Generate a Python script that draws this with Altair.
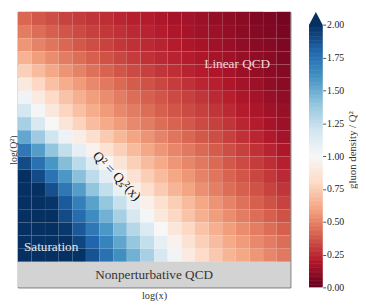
import altair as alt
import numpy as np
import pandas as pd

# gluon density / Q^2.
# columns: log(x) bins, left -> right ; rows: log(Q^2) bins, top (high Q^2) -> bottom
density_rows = [
    [0.42, 0.38, 0.35, 0.32, 0.30, 0.28, 0.26, 0.24, 0.22, 0.21, 0.19, 0.17, 0.16, 0.14, 0.12, 0.11, 0.09, 0.07, 0.06, 0.04],
    [0.48, 0.44, 0.40, 0.37, 0.34, 0.31, 0.29, 0.27, 0.25, 0.23, 0.21, 0.19, 0.17, 0.15, 0.14, 0.12, 0.10, 0.08, 0.07, 0.05],
    [0.56, 0.50, 0.46, 0.42, 0.38, 0.35, 0.32, 0.29, 0.27, 0.25, 0.23, 0.21, 0.19, 0.17, 0.15, 0.13, 0.11, 0.09, 0.08, 0.06],
    [0.65, 0.58, 0.53, 0.48, 0.44, 0.40, 0.36, 0.33, 0.30, 0.27, 0.25, 0.23, 0.21, 0.19, 0.17, 0.15, 0.13, 0.11, 0.09, 0.07],
    [0.76, 0.68, 0.61, 0.55, 0.50, 0.45, 0.41, 0.37, 0.34, 0.31, 0.28, 0.26, 0.23, 0.21, 0.19, 0.17, 0.14, 0.12, 0.10, 0.08],
    [0.90, 0.79, 0.70, 0.63, 0.57, 0.52, 0.47, 0.43, 0.39, 0.36, 0.33, 0.30, 0.27, 0.24, 0.22, 0.19, 0.16, 0.14, 0.11, 0.09],
    [1.04, 0.91, 0.80, 0.71, 0.64, 0.58, 0.53, 0.48, 0.44, 0.40, 0.37, 0.34, 0.31, 0.28, 0.25, 0.22, 0.19, 0.16, 0.13, 0.11],
    [1.18, 1.02, 0.89, 0.78, 0.70, 0.63, 0.57, 0.52, 0.48, 0.44, 0.40, 0.37, 0.34, 0.31, 0.28, 0.25, 0.21, 0.18, 0.15, 0.13],
    [1.33, 1.16, 1.00, 0.87, 0.77, 0.69, 0.62, 0.57, 0.52, 0.48, 0.44, 0.41, 0.38, 0.34, 0.31, 0.28, 0.24, 0.21, 0.17, 0.14],
    [1.52, 1.36, 1.20, 1.06, 0.93, 0.83, 0.74, 0.67, 0.60, 0.55, 0.50, 0.46, 0.42, 0.38, 0.35, 0.31, 0.27, 0.24, 0.20, 0.16],
    [1.72, 1.56, 1.40, 1.24, 1.09, 0.96, 0.85, 0.76, 0.68, 0.61, 0.56, 0.51, 0.47, 0.43, 0.39, 0.35, 0.31, 0.27, 0.23, 0.19],
    [1.90, 1.75, 1.59, 1.43, 1.27, 1.12, 0.98, 0.86, 0.76, 0.68, 0.62, 0.56, 0.51, 0.47, 0.43, 0.38, 0.34, 0.30, 0.26, 0.22],
    [2.05, 1.90, 1.74, 1.58, 1.42, 1.26, 1.10, 0.96, 0.85, 0.75, 0.68, 0.61, 0.56, 0.50, 0.46, 0.41, 0.37, 0.33, 0.29, 0.25],
    [2.15, 2.02, 1.88, 1.72, 1.56, 1.40, 1.24, 1.08, 0.94, 0.83, 0.74, 0.66, 0.60, 0.54, 0.49, 0.44, 0.40, 0.36, 0.32, 0.28],
    [2.20, 2.10, 1.98, 1.84, 1.69, 1.54, 1.39, 1.23, 1.08, 0.95, 0.84, 0.75, 0.68, 0.61, 0.55, 0.50, 0.45, 0.40, 0.36, 0.32],
    [2.25, 2.15, 2.04, 1.90, 1.77, 1.63, 1.48, 1.33, 1.17, 1.02, 0.89, 0.79, 0.71, 0.64, 0.58, 0.53, 0.48, 0.44, 0.40, 0.36],
    [2.30, 2.20, 2.10, 1.97, 1.85, 1.72, 1.58, 1.44, 1.29, 1.14, 1.00, 0.88, 0.79, 0.71, 0.64, 0.58, 0.53, 0.48, 0.44, 0.40],
    [2.35, 2.25, 2.15, 2.04, 1.92, 1.80, 1.67, 1.53, 1.39, 1.24, 1.09, 0.96, 0.85, 0.76, 0.69, 0.62, 0.57, 0.52, 0.48, 0.44],
    [2.40, 2.30, 2.20, 2.10, 1.99, 1.87, 1.75, 1.62, 1.48, 1.33, 1.17, 1.03, 0.91, 0.81, 0.73, 0.66, 0.61, 0.56, 0.51, 0.47],
]

region_labels = ["Linear QCD", "Saturation", "Nonperturbative QCD"]
line_label = "Q² = Qₛ²(x)"
colorbar_ticks = [0.0, 0.25, 0.5, 0.75, 1.0, 1.25, 1.5, 1.75, 2.0]

# RdBu colour map (red at 0, blue at 2)
rdbu_stops = [0.0, 0.2, 0.4, 0.6, 0.8, 1.0, 1.2, 1.4, 1.6, 1.8, 2.0]
rdbu_colors = ["#67001f", "#b2182b", "#d6604d", "#f4a582", "#fddbc7", "#f7f7f7",
               "#d1e5f0", "#92c5de", "#4393c3", "#2166ac", "#053061"]

FONT = "Liberation Serif"
n_rows = len(density_rows)
n_cols = len(density_rows[0])
band = 1.94  # depth of nonperturbative band, in bin units

cells = []
for r, row in enumerate(density_rows):
    top = n_rows - r
    for c, val in enumerate(row):
        cells.append({"x0": c, "x1": c + 1, "y0": top - 1, "y1": top, "g": val})
cells = pd.DataFrame(cells)

xs = alt.Scale(domain=[0, n_cols], nice=False, zero=False)
ys = alt.Scale(domain=[-band, n_rows], nice=False, zero=False)
cscale = alt.Scale(domain=rdbu_stops, range=rdbu_colors, interpolate="rgb", clamp=True)

heat = alt.Chart(cells).mark_rect(stroke="white", strokeWidth=0.4, strokeOpacity=0.07).encode(
    x=alt.X("x0:Q", scale=xs, axis=alt.Axis(title="log(x)", labels=False, ticks=False, domain=False,
                                             grid=False, titlePadding=3, minExtent=0)),
    x2="x1:Q",
    y=alt.Y("y0:Q", scale=ys, axis=alt.Axis(title="log(Q²)", labels=False, ticks=False, domain=False,
                                             grid=False, titlePadding=-1, minExtent=0, titleFontSize=10)),
    y2="y1:Q",
    color=alt.Color("g:Q", scale=cscale, legend=None),
)

band_df = pd.DataFrame({"x0": [0], "x1": [n_cols], "y0": [-band], "y1": [0]})
band_rect = alt.Chart(band_df).mark_rect(color="#d3d3d3").encode(
    x="x0:Q", x2="x1:Q", y="y0:Q", y2="y1:Q"
)

lab_df = pd.DataFrame({
    "x0": [16.1, 0.45, 10.0],
    "y0": [15.05, 1.12, -0.97],
    "t": region_labels,
    "c": ["#f0d6da", "#e4e8f0", "#333333"],
    "a": ["center", "left", "center"],
})
labels = []
for i in range(3):
    labels.append(
        alt.Chart(lab_df.iloc[[i]]).mark_text(
            font=FONT, fontSize=13.5, align=lab_df["a"][i], baseline="middle", color=lab_df["c"][i]
        ).encode(x="x0:Q", y="y0:Q", text="t:N")
    )

qs_df = pd.DataFrame({"x0": [7.25], "y0": [6.5], "t": [line_label]})
qs_text = alt.Chart(qs_df).mark_text(
    font=FONT, fontSize=14, angle=46, align="center", baseline="middle", color="#111111"
).encode(x="x0:Q", y="y0:Q", text="t:N")

main = alt.layer(heat, band_rect, *labels, qs_text).properties(
    width=278, height=281, view=alt.ViewBackground(stroke="#555555", strokeWidth=1)
)

# colour bar
cb_lo = np.round(np.arange(0, 2, 0.01), 2)
cb = pd.DataFrame({"a": 0, "b": 1, "y0": cb_lo, "y1": np.minimum(cb_lo + 0.014, 2.0), "g": cb_lo + 0.005})
cbs_x = alt.Scale(domain=[0, 1], nice=False, zero=False)
cbs_y = alt.Scale(domain=[0, 2.1], nice=False, zero=False)
cb_axis = alt.Axis(
    orient="right", values=colorbar_ticks, format=".2f", title="gluon density / Q²",
    grid=False, domain=False, tickSize=3, tickWidth=0.8, tickColor="#222",
    labelFont=FONT, labelFontSize=10, labelColor="#222", labelPadding=1,
    labelOverlap=False, labelFlush=False,
    titleFont=FONT, titleFontSize=11, titleFontWeight="normal", titleColor="#333",
    titleAngle=270, titleBaseline="top", titlePadding=3)
cbar = alt.Chart(cb).mark_rect().encode(
    x=alt.X("a:Q", scale=cbs_x, axis=None),
    x2="b:Q",
    y=alt.Y("y0:Q", scale=cbs_y, axis=cb_axis),
    y2="y1:Q",
    color=alt.Color("g:Q", scale=cscale, legend=None),
)
tri = pd.DataFrame({"a": [0, 0.5, 1], "top": [2.0, 2.1, 2.0], "base": [2.0, 2.0, 2.0]})
arrow = alt.Chart(tri).mark_area(color="#053061").encode(
    x=alt.X("a:Q", scale=cbs_x, axis=None),
    y=alt.Y("top:Q", scale=cbs_y, axis=cb_axis),
    y2="base:Q",
)
colorbar = alt.layer(cbar, arrow).properties(width=14, height=281, view=alt.ViewBackground(stroke=None))

chart = alt.hconcat(main, colorbar, spacing=18).properties(
    padding={"left": 0, "top": 0, "right": 0, "bottom": 0}
).configure_axis(
    titleFont=FONT, titleFontSize=10.5, titleFontWeight="normal", titleColor="#333"
)

chart.save("out.html", embed_options={"renderer": "svg", "actions": False})
